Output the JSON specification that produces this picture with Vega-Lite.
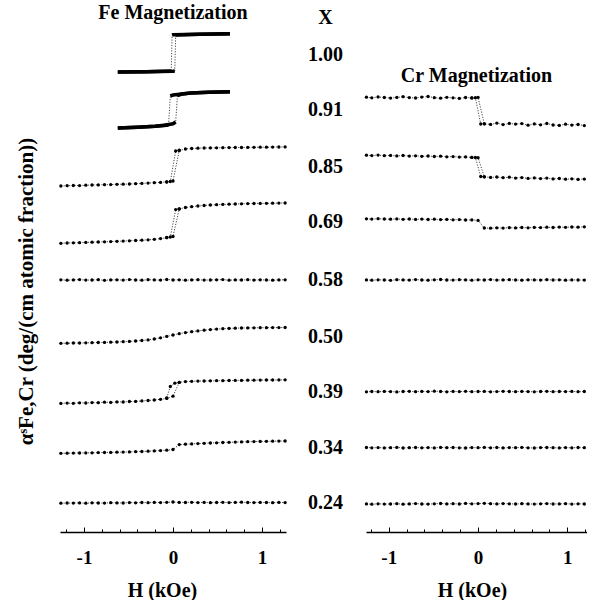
{
"$schema": "https://vega.github.io/schema/vega-lite/v6.json",
"padding": {"left": 15, "top": 2, "right": 0, "bottom": 0},
"background": "white",
"config": {
 "view": {"stroke": null},
 "font": "Liberation Serif",
 "axis": {"labelFont": "Liberation Serif", "labelFontWeight": "bold", "labelFontSize": 19, "labelColor": "black", "titleFont": "Liberation Serif", "titleFontWeight": "bold", "titleFontSize": 20, "titleColor": "black", "domainColor": "black", "tickColor": "black", "grid": false},
 "title": {"font": "Liberation Serif", "fontSize": 20, "fontWeight": "bold", "color": "black"}
},
"datasets": {
 "fe": [
  {"x":"1.00","s":"u","b":"lo","h":-0.62,"v":460},{"x":"1.00","s":"u","b":"lo","h":-0.3,"v":460.3},{"x":"1.00","s":"u","b":"lo","h":0,"v":460.8},{"x":"1.00","s":"u","b":"lo","h":0.02,"v":461},{"x":"1.00","s":"u","b":"hi","h":0.03,"v":497},{"x":"1.00","s":"u","b":"hi","h":0.3,"v":497.8},{"x":"1.00","s":"u","b":"hi","h":0.64,"v":498.3},
  {"x":"1.00","s":"d","b":"hi","h":0.64,"v":498.3},{"x":"1.00","s":"d","b":"hi","h":0.3,"v":497.8},{"x":"1.00","s":"d","b":"hi","h":0,"v":497.3},{"x":"1.00","s":"d","b":"hi","h":-0.01,"v":497},{"x":"1.00","s":"d","b":"lo","h":-0.02,"v":461},{"x":"1.00","s":"d","b":"lo","h":-0.3,"v":460.3},{"x":"1.00","s":"d","b":"lo","h":-0.62,"v":460},
  {"x":"0.91","s":"u","b":"lo","h":-0.62,"v":404},{"x":"0.91","s":"u","b":"lo","h":-0.4,"v":404.8},{"x":"0.91","s":"u","b":"lo","h":-0.2,"v":405.8},{"x":"0.91","s":"u","b":"lo","h":-0.1,"v":406.8},{"x":"0.91","s":"u","b":"lo","h":0,"v":408.2},{"x":"0.91","s":"u","b":"lo","h":0.03,"v":410},{"x":"0.91","s":"u","b":"hi","h":0.05,"v":436.5},{"x":"0.91","s":"u","b":"hi","h":0.1,"v":438},{"x":"0.91","s":"u","b":"hi","h":0.2,"v":439},{"x":"0.91","s":"u","b":"hi","h":0.4,"v":439.8},{"x":"0.91","s":"u","b":"hi","h":0.64,"v":440.3},
  {"x":"0.91","s":"d","b":"hi","h":0.64,"v":440.3},{"x":"0.91","s":"d","b":"hi","h":0.4,"v":439.8},{"x":"0.91","s":"d","b":"hi","h":0.2,"v":439},{"x":"0.91","s":"d","b":"hi","h":0.1,"v":438},{"x":"0.91","s":"d","b":"hi","h":0,"v":437},{"x":"0.91","s":"d","b":"hi","h":-0.03,"v":436},{"x":"0.91","s":"d","b":"lo","h":-0.05,"v":407},{"x":"0.91","s":"d","b":"lo","h":-0.1,"v":406.6},{"x":"0.91","s":"d","b":"lo","h":-0.2,"v":405.8},{"x":"0.91","s":"d","b":"lo","h":-0.4,"v":404.8},{"x":"0.91","s":"d","b":"lo","h":-0.62,"v":404},

  {"x":"0.85","s":"u","h":-1.26,"v":346},{"x":"0.85","s":"u","h":-1.19,"v":346.3},{"x":"0.85","s":"u","h":-1.12,"v":346.5},{"x":"0.85","s":"u","h":-1.05,"v":346.4},{"x":"0.85","s":"u","h":-0.98,"v":346.8},{"x":"0.85","s":"u","h":-0.91,"v":347},{"x":"0.85","s":"u","h":-0.84,"v":347.1},{"x":"0.85","s":"u","h":-0.77,"v":347.3},{"x":"0.85","s":"u","h":-0.7,"v":347.4},{"x":"0.85","s":"u","h":-0.63,"v":347.7},{"x":"0.85","s":"u","h":-0.56,"v":347.8},{"x":"0.85","s":"u","h":-0.49,"v":348},{"x":"0.85","s":"u","h":-0.42,"v":348.3},{"x":"0.85","s":"u","h":-0.35,"v":348.6},{"x":"0.85","s":"u","h":-0.28,"v":348.9},{"x":"0.85","s":"u","h":-0.21,"v":349.3},{"x":"0.85","s":"u","h":-0.14,"v":349.6},{"x":"0.85","s":"u","h":-0.07,"v":350.2},{"x":"0.85","s":"u","h":0,"v":351},
  {"x":"0.85","s":"u","h":0.07,"v":381.5},{"x":"0.85","s":"u","h":0.14,"v":383},{"x":"0.85","s":"u","h":0.21,"v":383.5},{"x":"0.85","s":"u","h":0.28,"v":383.8},{"x":"0.85","s":"u","h":0.35,"v":384},{"x":"0.85","s":"u","h":0.42,"v":384.1},{"x":"0.85","s":"u","h":0.49,"v":384.2},{"x":"0.85","s":"u","h":0.56,"v":384.3},{"x":"0.85","s":"u","h":0.63,"v":384.4},{"x":"0.85","s":"u","h":0.7,"v":384.5},{"x":"0.85","s":"u","h":0.77,"v":384.5},{"x":"0.85","s":"u","h":0.84,"v":384.6},{"x":"0.85","s":"u","h":0.91,"v":384.7},{"x":"0.85","s":"u","h":0.98,"v":384.8},{"x":"0.85","s":"u","h":1.05,"v":384.8},{"x":"0.85","s":"u","h":1.12,"v":384.9},{"x":"0.85","s":"u","h":1.19,"v":385},{"x":"0.85","s":"u","h":1.26,"v":385.1},
  {"x":"0.85","s":"d","h":0.07,"v":381.8},{"x":"0.85","s":"d","h":0.03,"v":381},{"x":"0.85","s":"d","h":-0.03,"v":350.5},{"x":"0.85","s":"d","h":-0.07,"v":350},

  {"x":"0.69","s":"u","h":-1.26,"v":288.7},{"x":"0.69","s":"u","h":-1.19,"v":289},{"x":"0.69","s":"u","h":-1.12,"v":289.2},{"x":"0.69","s":"u","h":-1.05,"v":289.3},{"x":"0.69","s":"u","h":-0.98,"v":289.6},{"x":"0.69","s":"u","h":-0.91,"v":289.8},{"x":"0.69","s":"u","h":-0.84,"v":290},{"x":"0.69","s":"u","h":-0.77,"v":290.2},{"x":"0.69","s":"u","h":-0.7,"v":290.4},{"x":"0.69","s":"u","h":-0.63,"v":290.7},{"x":"0.69","s":"u","h":-0.56,"v":290.9},{"x":"0.69","s":"u","h":-0.49,"v":291.2},{"x":"0.69","s":"u","h":-0.42,"v":291.5},{"x":"0.69","s":"u","h":-0.35,"v":291.8},{"x":"0.69","s":"u","h":-0.28,"v":292.2},{"x":"0.69","s":"u","h":-0.21,"v":292.7},{"x":"0.69","s":"u","h":-0.14,"v":293.4},{"x":"0.69","s":"u","h":-0.07,"v":294.3},{"x":"0.69","s":"u","h":0,"v":295.5},
  {"x":"0.69","s":"u","h":0.07,"v":323},{"x":"0.69","s":"u","h":0.14,"v":324.5},{"x":"0.69","s":"u","h":0.21,"v":325.3},{"x":"0.69","s":"u","h":0.28,"v":326},{"x":"0.69","s":"u","h":0.35,"v":326.5},{"x":"0.69","s":"u","h":0.42,"v":327},{"x":"0.69","s":"u","h":0.49,"v":327.3},{"x":"0.69","s":"u","h":0.56,"v":327.6},{"x":"0.69","s":"u","h":0.63,"v":327.8},{"x":"0.69","s":"u","h":0.7,"v":328},{"x":"0.69","s":"u","h":0.77,"v":328.2},{"x":"0.69","s":"u","h":0.84,"v":328.4},{"x":"0.69","s":"u","h":0.91,"v":328.5},{"x":"0.69","s":"u","h":0.98,"v":328.6},{"x":"0.69","s":"u","h":1.05,"v":328.7},{"x":"0.69","s":"u","h":1.12,"v":328.8},{"x":"0.69","s":"u","h":1.19,"v":328.9},{"x":"0.69","s":"u","h":1.26,"v":329},
  {"x":"0.69","s":"d","h":0.07,"v":323.2},{"x":"0.69","s":"d","h":0.03,"v":322.4},{"x":"0.69","s":"d","h":-0.03,"v":295},{"x":"0.69","s":"d","h":-0.07,"v":294.5},

  {"x":"0.58","s":"u","h":-1.26,"v":252.2},{"x":"0.58","s":"u","h":-1.19,"v":251.8},{"x":"0.58","s":"u","h":-1.12,"v":252.1},{"x":"0.58","s":"u","h":-1.05,"v":252.4},{"x":"0.58","s":"u","h":-0.98,"v":251.9},{"x":"0.58","s":"u","h":-0.91,"v":252},{"x":"0.58","s":"u","h":-0.84,"v":252.3},{"x":"0.58","s":"u","h":-0.77,"v":251.7},{"x":"0.58","s":"u","h":-0.7,"v":252.1},{"x":"0.58","s":"u","h":-0.63,"v":252.2},{"x":"0.58","s":"u","h":-0.56,"v":251.9},{"x":"0.58","s":"u","h":-0.49,"v":252.4},{"x":"0.58","s":"u","h":-0.42,"v":252},{"x":"0.58","s":"u","h":-0.35,"v":251.8},{"x":"0.58","s":"u","h":-0.28,"v":252.3},{"x":"0.58","s":"u","h":-0.21,"v":252.1},{"x":"0.58","s":"u","h":-0.14,"v":251.9},{"x":"0.58","s":"u","h":-0.07,"v":252.5},{"x":"0.58","s":"u","h":0,"v":252},{"x":"0.58","s":"u","h":0.07,"v":252.2},{"x":"0.58","s":"u","h":0.14,"v":251.8},{"x":"0.58","s":"u","h":0.21,"v":252.1},{"x":"0.58","s":"u","h":0.28,"v":252.3},{"x":"0.58","s":"u","h":0.35,"v":251.9},{"x":"0.58","s":"u","h":0.42,"v":252},{"x":"0.58","s":"u","h":0.49,"v":252.2},{"x":"0.58","s":"u","h":0.56,"v":252.4},{"x":"0.58","s":"u","h":0.63,"v":251.8},{"x":"0.58","s":"u","h":0.7,"v":252.1},{"x":"0.58","s":"u","h":0.77,"v":252},{"x":"0.58","s":"u","h":0.84,"v":252.3},{"x":"0.58","s":"u","h":0.91,"v":251.9},{"x":"0.58","s":"u","h":0.98,"v":252.2},{"x":"0.58","s":"u","h":1.05,"v":252},{"x":"0.58","s":"u","h":1.12,"v":251.8},{"x":"0.58","s":"u","h":1.19,"v":252.1},{"x":"0.58","s":"u","h":1.26,"v":252.2},

  {"x":"0.50","s":"u","h":-1.26,"v":188.7},{"x":"0.50","s":"u","h":-1.19,"v":188.8},{"x":"0.50","s":"u","h":-1.12,"v":189},{"x":"0.50","s":"u","h":-1.05,"v":189},{"x":"0.50","s":"u","h":-0.98,"v":189.2},{"x":"0.50","s":"u","h":-0.91,"v":189.3},{"x":"0.50","s":"u","h":-0.84,"v":189.5},{"x":"0.50","s":"u","h":-0.77,"v":189.6},{"x":"0.50","s":"u","h":-0.7,"v":189.8},{"x":"0.50","s":"u","h":-0.63,"v":190},{"x":"0.50","s":"u","h":-0.56,"v":190.3},{"x":"0.50","s":"u","h":-0.49,"v":190.6},{"x":"0.50","s":"u","h":-0.42,"v":191},{"x":"0.50","s":"u","h":-0.35,"v":191.5},{"x":"0.50","s":"u","h":-0.28,"v":192.1},{"x":"0.50","s":"u","h":-0.21,"v":193},{"x":"0.50","s":"u","h":-0.14,"v":194.2},{"x":"0.50","s":"u","h":-0.07,"v":195.6},{"x":"0.50","s":"u","h":0,"v":197},{"x":"0.50","s":"u","h":0.07,"v":198.3},{"x":"0.50","s":"u","h":0.14,"v":199.4},{"x":"0.50","s":"u","h":0.21,"v":200.3},{"x":"0.50","s":"u","h":0.28,"v":201.1},{"x":"0.50","s":"u","h":0.35,"v":201.8},{"x":"0.50","s":"u","h":0.42,"v":202.4},{"x":"0.50","s":"u","h":0.49,"v":202.9},{"x":"0.50","s":"u","h":0.56,"v":203.3},{"x":"0.50","s":"u","h":0.63,"v":203.6},{"x":"0.50","s":"u","h":0.7,"v":203.8},{"x":"0.50","s":"u","h":0.77,"v":204},{"x":"0.50","s":"u","h":0.84,"v":204.1},{"x":"0.50","s":"u","h":0.91,"v":204.2},{"x":"0.50","s":"u","h":0.98,"v":204.3},{"x":"0.50","s":"u","h":1.05,"v":204.3},{"x":"0.50","s":"u","h":1.12,"v":204.4},{"x":"0.50","s":"u","h":1.19,"v":204.4},{"x":"0.50","s":"u","h":1.26,"v":204.5},

  {"x":"0.39","s":"u","h":-1.26,"v":128.6},{"x":"0.39","s":"u","h":-1.19,"v":128.9},{"x":"0.39","s":"u","h":-1.12,"v":128.7},{"x":"0.39","s":"u","h":-1.05,"v":129.2},{"x":"0.39","s":"u","h":-0.98,"v":129},{"x":"0.39","s":"u","h":-0.91,"v":129.4},{"x":"0.39","s":"u","h":-0.84,"v":129.3},{"x":"0.39","s":"u","h":-0.77,"v":129.8},{"x":"0.39","s":"u","h":-0.7,"v":129.6},{"x":"0.39","s":"u","h":-0.63,"v":130.1},{"x":"0.39","s":"u","h":-0.56,"v":130},{"x":"0.39","s":"u","h":-0.49,"v":130.5},{"x":"0.39","s":"u","h":-0.42,"v":130.6},{"x":"0.39","s":"u","h":-0.35,"v":131.1},{"x":"0.39","s":"u","h":-0.28,"v":131.5},{"x":"0.39","s":"u","h":-0.21,"v":132},{"x":"0.39","s":"u","h":-0.14,"v":132.7},{"x":"0.39","s":"u","h":-0.07,"v":133.6},{"x":"0.39","s":"u","h":0,"v":135.8},
  {"x":"0.39","s":"u","h":0.07,"v":149.6},{"x":"0.39","s":"u","h":0.14,"v":150.4},{"x":"0.39","s":"u","h":0.21,"v":150.7},{"x":"0.39","s":"u","h":0.28,"v":150.9},{"x":"0.39","s":"u","h":0.35,"v":151},{"x":"0.39","s":"u","h":0.42,"v":151.2},{"x":"0.39","s":"u","h":0.49,"v":151.3},{"x":"0.39","s":"u","h":0.56,"v":151.3},{"x":"0.39","s":"u","h":0.63,"v":151.5},{"x":"0.39","s":"u","h":0.7,"v":151.6},{"x":"0.39","s":"u","h":0.77,"v":151.6},{"x":"0.39","s":"u","h":0.84,"v":151.8},{"x":"0.39","s":"u","h":0.91,"v":151.8},{"x":"0.39","s":"u","h":0.98,"v":151.9},{"x":"0.39","s":"u","h":1.05,"v":152},{"x":"0.39","s":"u","h":1.12,"v":152},{"x":"0.39","s":"u","h":1.19,"v":152.1},{"x":"0.39","s":"u","h":1.26,"v":152.2},
  {"x":"0.39","s":"d","h":0.07,"v":149.6},{"x":"0.39","s":"d","h":0.02,"v":148.8},{"x":"0.39","s":"d","h":-0.03,"v":145.5},{"x":"0.39","s":"d","h":-0.07,"v":134.2},

  {"x":"0.34","s":"u","h":-1.26,"v":78.7},{"x":"0.34","s":"u","h":-1.19,"v":78.8},{"x":"0.34","s":"u","h":-1.12,"v":78.9},{"x":"0.34","s":"u","h":-1.05,"v":79},{"x":"0.34","s":"u","h":-0.98,"v":79.1},{"x":"0.34","s":"u","h":-0.91,"v":79.2},{"x":"0.34","s":"u","h":-0.84,"v":79.4},{"x":"0.34","s":"u","h":-0.77,"v":79.5},{"x":"0.34","s":"u","h":-0.7,"v":79.6},{"x":"0.34","s":"u","h":-0.63,"v":79.8},{"x":"0.34","s":"u","h":-0.56,"v":79.9},{"x":"0.34","s":"u","h":-0.49,"v":80.1},{"x":"0.34","s":"u","h":-0.42,"v":80.3},{"x":"0.34","s":"u","h":-0.35,"v":80.5},{"x":"0.34","s":"u","h":-0.28,"v":80.8},{"x":"0.34","s":"u","h":-0.21,"v":81.1},{"x":"0.34","s":"u","h":-0.14,"v":81.4},{"x":"0.34","s":"u","h":-0.07,"v":81.8},{"x":"0.34","s":"u","h":0,"v":82.5},
  {"x":"0.34","s":"u","h":0.07,"v":87.4},{"x":"0.34","s":"u","h":0.14,"v":87.8},{"x":"0.34","s":"u","h":0.21,"v":88.1},{"x":"0.34","s":"u","h":0.28,"v":88.4},{"x":"0.34","s":"u","h":0.35,"v":88.7},{"x":"0.34","s":"u","h":0.42,"v":89},{"x":"0.34","s":"u","h":0.49,"v":89.2},{"x":"0.34","s":"u","h":0.56,"v":89.5},{"x":"0.34","s":"u","h":0.63,"v":89.7},{"x":"0.34","s":"u","h":0.7,"v":89.9},{"x":"0.34","s":"u","h":0.77,"v":90.1},{"x":"0.34","s":"u","h":0.84,"v":90.3},{"x":"0.34","s":"u","h":0.91,"v":90.4},{"x":"0.34","s":"u","h":0.98,"v":90.6},{"x":"0.34","s":"u","h":1.05,"v":90.7},{"x":"0.34","s":"u","h":1.12,"v":90.8},{"x":"0.34","s":"u","h":1.19,"v":90.9},{"x":"0.34","s":"u","h":1.26,"v":91},

  {"x":"0.24","s":"u","h":-1.26,"v":28.8},{"x":"0.24","s":"u","h":-1.19,"v":29},{"x":"0.24","s":"u","h":-1.12,"v":28.9},{"x":"0.24","s":"u","h":-1.05,"v":29.1},{"x":"0.24","s":"u","h":-0.98,"v":28.8},{"x":"0.24","s":"u","h":-0.91,"v":29.2},{"x":"0.24","s":"u","h":-0.84,"v":29},{"x":"0.24","s":"u","h":-0.77,"v":28.9},{"x":"0.24","s":"u","h":-0.7,"v":29.3},{"x":"0.24","s":"u","h":-0.63,"v":29.1},{"x":"0.24","s":"u","h":-0.56,"v":29},{"x":"0.24","s":"u","h":-0.49,"v":29.4},{"x":"0.24","s":"u","h":-0.42,"v":29.2},{"x":"0.24","s":"u","h":-0.35,"v":29.5},{"x":"0.24","s":"u","h":-0.28,"v":29.3},{"x":"0.24","s":"u","h":-0.21,"v":29.6},{"x":"0.24","s":"u","h":-0.14,"v":29.4},{"x":"0.24","s":"u","h":-0.07,"v":29.7},{"x":"0.24","s":"u","h":0,"v":30},{"x":"0.24","s":"u","h":0.07,"v":29.6},{"x":"0.24","s":"u","h":0.14,"v":29.5},{"x":"0.24","s":"u","h":0.21,"v":29.7},{"x":"0.24","s":"u","h":0.28,"v":29.4},{"x":"0.24","s":"u","h":0.35,"v":29.6},{"x":"0.24","s":"u","h":0.42,"v":29.3},{"x":"0.24","s":"u","h":0.49,"v":29.5},{"x":"0.24","s":"u","h":0.56,"v":29.7},{"x":"0.24","s":"u","h":0.63,"v":29.4},{"x":"0.24","s":"u","h":0.7,"v":29.6},{"x":"0.24","s":"u","h":0.77,"v":29.8},{"x":"0.24","s":"u","h":0.84,"v":29.5},{"x":"0.24","s":"u","h":0.91,"v":29.4},{"x":"0.24","s":"u","h":0.98,"v":29.6},{"x":"0.24","s":"u","h":1.05,"v":29.5},{"x":"0.24","s":"u","h":1.12,"v":29.3},{"x":"0.24","s":"u","h":1.19,"v":29.6},{"x":"0.24","s":"u","h":1.26,"v":29.4}
 ],
 "cr": [
  {"x":"0.91","s":"u","h":-1.25,"v":434.8},{"x":"0.91","s":"u","h":-1.19,"v":434.2},{"x":"0.91","s":"u","h":-1.12,"v":435.1},{"x":"0.91","s":"u","h":-1.05,"v":434.5},{"x":"0.91","s":"u","h":-0.98,"v":433.9},{"x":"0.91","s":"u","h":-0.91,"v":434.6},{"x":"0.91","s":"u","h":-0.84,"v":435.3},{"x":"0.91","s":"u","h":-0.77,"v":434.4},{"x":"0.91","s":"u","h":-0.7,"v":434},{"x":"0.91","s":"u","h":-0.63,"v":434.9},{"x":"0.91","s":"u","h":-0.56,"v":435.5},{"x":"0.91","s":"u","h":-0.49,"v":434.3},{"x":"0.91","s":"u","h":-0.42,"v":433.8},{"x":"0.91","s":"u","h":-0.35,"v":434.7},{"x":"0.91","s":"u","h":-0.28,"v":434.2},{"x":"0.91","s":"u","h":-0.21,"v":433.6},{"x":"0.91","s":"u","h":-0.14,"v":434.5},{"x":"0.91","s":"u","h":-0.07,"v":434.1},{"x":"0.91","s":"u","h":0,"v":434.6},
  {"x":"0.91","s":"u","h":0.07,"v":408.2},{"x":"0.91","s":"u","h":0.14,"v":407.6},{"x":"0.91","s":"u","h":0.21,"v":408.9},{"x":"0.91","s":"u","h":0.28,"v":407.4},{"x":"0.91","s":"u","h":0.35,"v":408.6},{"x":"0.91","s":"u","h":0.42,"v":407.9},{"x":"0.91","s":"u","h":0.49,"v":408.4},{"x":"0.91","s":"u","h":0.56,"v":406.8},{"x":"0.91","s":"u","h":0.63,"v":408.1},{"x":"0.91","s":"u","h":0.7,"v":407.2},{"x":"0.91","s":"u","h":0.77,"v":408.5},{"x":"0.91","s":"u","h":0.84,"v":407},{"x":"0.91","s":"u","h":0.91,"v":406.6},{"x":"0.91","s":"u","h":0.98,"v":407.8},{"x":"0.91","s":"u","h":1.05,"v":406.9},{"x":"0.91","s":"u","h":1.12,"v":407.5},{"x":"0.91","s":"u","h":1.19,"v":406.4},
  {"x":"0.91","s":"d","h":-0.07,"v":434.1},{"x":"0.91","s":"d","h":-0.03,"v":434.3},{"x":"0.91","s":"d","h":0.03,"v":408},{"x":"0.91","s":"d","h":0.07,"v":408.2},

  {"x":"0.85","s":"u","h":-1.25,"v":376.8},{"x":"0.85","s":"u","h":-1.19,"v":376.4},{"x":"0.85","s":"u","h":-1.12,"v":376.9},{"x":"0.85","s":"u","h":-1.05,"v":376.3},{"x":"0.85","s":"u","h":-0.98,"v":376.6},{"x":"0.85","s":"u","h":-0.91,"v":376.1},{"x":"0.85","s":"u","h":-0.84,"v":376.5},{"x":"0.85","s":"u","h":-0.77,"v":375.9},{"x":"0.85","s":"u","h":-0.7,"v":376.2},{"x":"0.85","s":"u","h":-0.63,"v":375.7},{"x":"0.85","s":"u","h":-0.56,"v":376},{"x":"0.85","s":"u","h":-0.49,"v":375.5},{"x":"0.85","s":"u","h":-0.42,"v":375.8},{"x":"0.85","s":"u","h":-0.35,"v":375.2},{"x":"0.85","s":"u","h":-0.28,"v":375.4},{"x":"0.85","s":"u","h":-0.21,"v":374.9},{"x":"0.85","s":"u","h":-0.14,"v":375.1},{"x":"0.85","s":"u","h":-0.07,"v":374.6},{"x":"0.85","s":"u","h":0,"v":374.3},
  {"x":"0.85","s":"u","h":0.07,"v":355.2},{"x":"0.85","s":"u","h":0.14,"v":354.6},{"x":"0.85","s":"u","h":0.21,"v":355},{"x":"0.85","s":"u","h":0.28,"v":354.3},{"x":"0.85","s":"u","h":0.35,"v":354.8},{"x":"0.85","s":"u","h":0.42,"v":353.9},{"x":"0.85","s":"u","h":0.49,"v":354.4},{"x":"0.85","s":"u","h":0.56,"v":353.6},{"x":"0.85","s":"u","h":0.63,"v":354.1},{"x":"0.85","s":"u","h":0.7,"v":353.4},{"x":"0.85","s":"u","h":0.77,"v":353.9},{"x":"0.85","s":"u","h":0.84,"v":353.1},{"x":"0.85","s":"u","h":0.91,"v":353.5},{"x":"0.85","s":"u","h":0.98,"v":352.8},{"x":"0.85","s":"u","h":1.05,"v":353.2},{"x":"0.85","s":"u","h":1.12,"v":352.6},{"x":"0.85","s":"u","h":1.19,"v":352.9},
  {"x":"0.85","s":"d","h":-0.07,"v":374.6},{"x":"0.85","s":"d","h":-0.03,"v":374.5},{"x":"0.85","s":"d","h":0.03,"v":355.5},{"x":"0.85","s":"d","h":0.07,"v":355.2},

  {"x":"0.69","s":"u","h":-1.25,"v":313.2},{"x":"0.69","s":"u","h":-1.19,"v":312.9},{"x":"0.69","s":"u","h":-1.12,"v":313.3},{"x":"0.69","s":"u","h":-1.05,"v":313},{"x":"0.69","s":"u","h":-0.98,"v":312.8},{"x":"0.69","s":"u","h":-0.91,"v":313.1},{"x":"0.69","s":"u","h":-0.84,"v":312.7},{"x":"0.69","s":"u","h":-0.77,"v":313},{"x":"0.69","s":"u","h":-0.7,"v":312.6},{"x":"0.69","s":"u","h":-0.63,"v":312.9},{"x":"0.69","s":"u","h":-0.56,"v":312.5},{"x":"0.69","s":"u","h":-0.49,"v":312.8},{"x":"0.69","s":"u","h":-0.42,"v":312.4},{"x":"0.69","s":"u","h":-0.35,"v":312.6},{"x":"0.69","s":"u","h":-0.28,"v":312.2},{"x":"0.69","s":"u","h":-0.21,"v":312.4},{"x":"0.69","s":"u","h":-0.14,"v":312},{"x":"0.69","s":"u","h":-0.07,"v":312.1},{"x":"0.69","s":"u","h":0,"v":311.6},
  {"x":"0.69","s":"u","h":0.07,"v":304},{"x":"0.69","s":"u","h":0.14,"v":303.8},{"x":"0.69","s":"u","h":0.21,"v":304.2},{"x":"0.69","s":"u","h":0.28,"v":303.9},{"x":"0.69","s":"u","h":0.35,"v":304.3},{"x":"0.69","s":"u","h":0.42,"v":304.1},{"x":"0.69","s":"u","h":0.49,"v":304.5},{"x":"0.69","s":"u","h":0.56,"v":304.2},{"x":"0.69","s":"u","h":0.63,"v":304.6},{"x":"0.69","s":"u","h":0.7,"v":304.4},{"x":"0.69","s":"u","h":0.77,"v":304.8},{"x":"0.69","s":"u","h":0.84,"v":304.5},{"x":"0.69","s":"u","h":0.91,"v":304.9},{"x":"0.69","s":"u","h":0.98,"v":304.7},{"x":"0.69","s":"u","h":1.05,"v":305},{"x":"0.69","s":"u","h":1.12,"v":304.8},{"x":"0.69","s":"u","h":1.19,"v":305.2},

  {"x":"0.58","s":"u","h":-1.25,"v":252.1},{"x":"0.58","s":"u","h":-1.19,"v":251.8},{"x":"0.58","s":"u","h":-1.12,"v":252.2},{"x":"0.58","s":"u","h":-1.05,"v":252},{"x":"0.58","s":"u","h":-0.98,"v":251.7},{"x":"0.58","s":"u","h":-0.91,"v":252.3},{"x":"0.58","s":"u","h":-0.84,"v":252.1},{"x":"0.58","s":"u","h":-0.77,"v":251.9},{"x":"0.58","s":"u","h":-0.7,"v":252.4},{"x":"0.58","s":"u","h":-0.63,"v":252},{"x":"0.58","s":"u","h":-0.56,"v":251.8},{"x":"0.58","s":"u","h":-0.49,"v":252.2},{"x":"0.58","s":"u","h":-0.42,"v":252.5},{"x":"0.58","s":"u","h":-0.35,"v":252},{"x":"0.58","s":"u","h":-0.28,"v":251.9},{"x":"0.58","s":"u","h":-0.21,"v":252.3},{"x":"0.58","s":"u","h":-0.14,"v":252.1},{"x":"0.58","s":"u","h":-0.07,"v":251.8},{"x":"0.58","s":"u","h":0,"v":252.2},{"x":"0.58","s":"u","h":0.07,"v":252},{"x":"0.58","s":"u","h":0.14,"v":252.4},{"x":"0.58","s":"u","h":0.21,"v":251.9},{"x":"0.58","s":"u","h":0.28,"v":252.1},{"x":"0.58","s":"u","h":0.35,"v":252.3},{"x":"0.58","s":"u","h":0.42,"v":252},{"x":"0.58","s":"u","h":0.49,"v":251.8},{"x":"0.58","s":"u","h":0.56,"v":252.2},{"x":"0.58","s":"u","h":0.63,"v":252.1},{"x":"0.58","s":"u","h":0.7,"v":251.9},{"x":"0.58","s":"u","h":0.77,"v":252.3},{"x":"0.58","s":"u","h":0.84,"v":252},{"x":"0.58","s":"u","h":0.91,"v":252.2},{"x":"0.58","s":"u","h":0.98,"v":251.8},{"x":"0.58","s":"u","h":1.05,"v":252.1},{"x":"0.58","s":"u","h":1.12,"v":252},{"x":"0.58","s":"u","h":1.19,"v":251.9},

  {"x":"0.39","s":"u","h":-1.25,"v":140.2},{"x":"0.39","s":"u","h":-1.19,"v":140.5},{"x":"0.39","s":"u","h":-1.12,"v":140.3},{"x":"0.39","s":"u","h":-1.05,"v":140.6},{"x":"0.39","s":"u","h":-0.98,"v":140.4},{"x":"0.39","s":"u","h":-0.91,"v":140.1},{"x":"0.39","s":"u","h":-0.84,"v":140.5},{"x":"0.39","s":"u","h":-0.77,"v":140.7},{"x":"0.39","s":"u","h":-0.7,"v":140.3},{"x":"0.39","s":"u","h":-0.63,"v":140.6},{"x":"0.39","s":"u","h":-0.56,"v":140.4},{"x":"0.39","s":"u","h":-0.49,"v":140.8},{"x":"0.39","s":"u","h":-0.42,"v":140.5},{"x":"0.39","s":"u","h":-0.35,"v":140.2},{"x":"0.39","s":"u","h":-0.28,"v":140.6},{"x":"0.39","s":"u","h":-0.21,"v":140.4},{"x":"0.39","s":"u","h":-0.14,"v":140.7},{"x":"0.39","s":"u","h":-0.07,"v":140.3},{"x":"0.39","s":"u","h":0,"v":140.5},{"x":"0.39","s":"u","h":0.07,"v":140.6},{"x":"0.39","s":"u","h":0.14,"v":140.2},{"x":"0.39","s":"u","h":0.21,"v":140.4},{"x":"0.39","s":"u","h":0.28,"v":140.7},{"x":"0.39","s":"u","h":0.35,"v":140.5},{"x":"0.39","s":"u","h":0.42,"v":140.3},{"x":"0.39","s":"u","h":0.49,"v":140.6},{"x":"0.39","s":"u","h":0.56,"v":140.4},{"x":"0.39","s":"u","h":0.63,"v":140.2},{"x":"0.39","s":"u","h":0.7,"v":140.5},{"x":"0.39","s":"u","h":0.77,"v":140.7},{"x":"0.39","s":"u","h":0.84,"v":140.3},{"x":"0.39","s":"u","h":0.91,"v":140.5},{"x":"0.39","s":"u","h":0.98,"v":140.4},{"x":"0.39","s":"u","h":1.05,"v":140.6},{"x":"0.39","s":"u","h":1.12,"v":140.3},{"x":"0.39","s":"u","h":1.19,"v":140.5},

  {"x":"0.34","s":"u","h":-1.25,"v":84.5},{"x":"0.34","s":"u","h":-1.19,"v":84.2},{"x":"0.34","s":"u","h":-1.12,"v":84.4},{"x":"0.34","s":"u","h":-1.05,"v":84.1},{"x":"0.34","s":"u","h":-0.98,"v":84.3},{"x":"0.34","s":"u","h":-0.91,"v":84.6},{"x":"0.34","s":"u","h":-0.84,"v":84},{"x":"0.34","s":"u","h":-0.77,"v":84.3},{"x":"0.34","s":"u","h":-0.7,"v":84.5},{"x":"0.34","s":"u","h":-0.63,"v":84.2},{"x":"0.34","s":"u","h":-0.56,"v":84.4},{"x":"0.34","s":"u","h":-0.49,"v":84.1},{"x":"0.34","s":"u","h":-0.42,"v":84.6},{"x":"0.34","s":"u","h":-0.35,"v":84.3},{"x":"0.34","s":"u","h":-0.28,"v":84.5},{"x":"0.34","s":"u","h":-0.21,"v":84.2},{"x":"0.34","s":"u","h":-0.14,"v":84},{"x":"0.34","s":"u","h":-0.07,"v":84.4},{"x":"0.34","s":"u","h":0,"v":84.3},{"x":"0.34","s":"u","h":0.07,"v":84.6},{"x":"0.34","s":"u","h":0.14,"v":84.2},{"x":"0.34","s":"u","h":0.21,"v":84.5},{"x":"0.34","s":"u","h":0.28,"v":84.1},{"x":"0.34","s":"u","h":0.35,"v":84.4},{"x":"0.34","s":"u","h":0.42,"v":84.3},{"x":"0.34","s":"u","h":0.49,"v":84.6},{"x":"0.34","s":"u","h":0.56,"v":84.2},{"x":"0.34","s":"u","h":0.63,"v":84},{"x":"0.34","s":"u","h":0.7,"v":84.4},{"x":"0.34","s":"u","h":0.77,"v":84.5},{"x":"0.34","s":"u","h":0.84,"v":84.3},{"x":"0.34","s":"u","h":0.91,"v":84.1},{"x":"0.34","s":"u","h":0.98,"v":84.4},{"x":"0.34","s":"u","h":1.05,"v":84.2},{"x":"0.34","s":"u","h":1.12,"v":84.5},{"x":"0.34","s":"u","h":1.19,"v":84.3},

  {"x":"0.24","s":"u","h":-1.25,"v":28.1},{"x":"0.24","s":"u","h":-1.19,"v":27.8},{"x":"0.24","s":"u","h":-1.12,"v":28.2},{"x":"0.24","s":"u","h":-1.05,"v":27.9},{"x":"0.24","s":"u","h":-0.98,"v":28},{"x":"0.24","s":"u","h":-0.91,"v":28.3},{"x":"0.24","s":"u","h":-0.84,"v":27.8},{"x":"0.24","s":"u","h":-0.77,"v":28.1},{"x":"0.24","s":"u","h":-0.7,"v":28.4},{"x":"0.24","s":"u","h":-0.63,"v":28},{"x":"0.24","s":"u","h":-0.56,"v":27.9},{"x":"0.24","s":"u","h":-0.49,"v":28.2},{"x":"0.24","s":"u","h":-0.42,"v":28.5},{"x":"0.24","s":"u","h":-0.35,"v":28.1},{"x":"0.24","s":"u","h":-0.28,"v":28.3},{"x":"0.24","s":"u","h":-0.21,"v":28},{"x":"0.24","s":"u","h":-0.14,"v":28.6},{"x":"0.24","s":"u","h":-0.07,"v":28.2},{"x":"0.24","s":"u","h":0,"v":28.4},{"x":"0.24","s":"u","h":0.07,"v":28.7},{"x":"0.24","s":"u","h":0.14,"v":28.3},{"x":"0.24","s":"u","h":0.21,"v":28.1},{"x":"0.24","s":"u","h":0.28,"v":28.4},{"x":"0.24","s":"u","h":0.35,"v":28.2},{"x":"0.24","s":"u","h":0.42,"v":28},{"x":"0.24","s":"u","h":0.49,"v":28.3},{"x":"0.24","s":"u","h":0.56,"v":28.1},{"x":"0.24","s":"u","h":0.63,"v":27.9},{"x":"0.24","s":"u","h":0.7,"v":28.2},{"x":"0.24","s":"u","h":0.77,"v":28.4},{"x":"0.24","s":"u","h":0.84,"v":28},{"x":"0.24","s":"u","h":0.91,"v":28.1},{"x":"0.24","s":"u","h":0.98,"v":28.3},{"x":"0.24","s":"u","h":1.05,"v":27.9},{"x":"0.24","s":"u","h":1.12,"v":28.2},{"x":"0.24","s":"u","h":1.19,"v":28}
 ],
 "labels": [
  {"x":"1.00","v":477},{"x":"0.91","v":422},{"x":"0.85","v":365},{"x":"0.69","v":310},{"x":"0.58","v":252},{"x":"0.50","v":195},{"x":"0.39","v":140},{"x":"0.34","v":84},{"x":"0.24","v":29}
 ]
},
"spacing": 0,
"resolve": {"scale": {"x": "independent", "y": "independent"}},
"hconcat": [
 {
  "width": 226, "height": 502,
  "title": {"text": "Fe Magnetization", "offset": 4},
  "data": {"name": "fe"},
  "encoding": {
   "x": {"field": "h", "type": "quantitative", "scale": {"domain": [-1.27, 1.27], "nice": false, "zero": false},
    "axis": {"title": "H (kOe)", "values": [-1.2,-1,-0.8,-0.6,-0.4,-0.2,0,0.2,0.4,0.6,0.8,1,1.2],
     "labelExpr": "abs(datum.value % 1) < 0.001 ? '' + datum.value : ''",
     "tickSize": {"condition": {"test": "abs(datum.value % 1) < 0.001", "value": -5}, "value": -3},
     "labelPadding": 21, "labelFlush": false, "domainWidth": 1.3, "titlePadding": 13, "titleX": 102}},
   "y": {"field": "v", "type": "quantitative", "scale": {"domain": [0, 502], "nice": false, "zero": false},
    "axis": {"title": "αˢFe,Cr (deg/(cm atomic fraction))", "labels": false, "ticks": false, "domain": false, "titlePadding": 24, "titleFontSize": 21, "titleY": 261}}
  },
  "layer": [
   {"mark": {"type": "line", "strokeDash": [1.2, 1.5], "strokeWidth": 0.9, "color": "#333"},
    "encoding": {"detail": [{"field": "x"}, {"field": "s"}]}},
   {"transform": [{"filter": {"field": "x", "oneOf": ["1.00", "0.91"]}}],
    "mark": {"type": "line", "strokeWidth": 3.5, "color": "black"},
    "encoding": {"detail": [{"field": "x"}, {"field": "s"}, {"field": "b"}]}},
   {"transform": [{"filter": "datum.x != '1.00' && datum.x != '0.91'"}],
    "mark": {"type": "point", "filled": true, "size": 11, "color": "black", "opacity": 1}}
  ]
 },
 {
  "width": 77, "height": 502,
  "title": {"text": "X", "offset": 2},
  "data": {"name": "labels"},
  "mark": {"type": "text", "font": "Liberation Serif", "fontWeight": "bold", "fontSize": 20, "align": "center", "baseline": "middle", "color": "black"},
  "encoding": {
   "x": {"datum": "c", "type": "nominal", "scale": {"type": "point"}, "axis": null},
   "y": {"field": "v", "type": "quantitative", "scale": {"domain": [0, 502], "nice": false, "zero": false}, "axis": null},
   "text": {"field": "x"}
  }
 },
 {
  "width": 221, "height": 502,
  "title": {"text": "Cr Magnetization", "offset": -56},
  "data": {"name": "cr"},
  "encoding": {
   "x": {"field": "h", "type": "quantitative", "scale": {"domain": [-1.255, 1.22], "nice": false, "zero": false},
    "axis": {"title": "H (kOe)", "values": [-1.2,-1,-0.8,-0.6,-0.4,-0.2,0,0.2,0.4,0.6,0.8,1,1.2],
     "labelExpr": "abs(datum.value % 1) < 0.001 ? '' + datum.value : ''",
     "tickSize": {"condition": {"test": "abs(datum.value % 1) < 0.001", "value": -5}, "value": -3},
     "labelPadding": 21, "labelFlush": false, "domainWidth": 1.3, "titlePadding": 13, "titleX": 106}},
   "y": {"field": "v", "type": "quantitative", "scale": {"domain": [0, 502], "nice": false, "zero": false}, "axis": null}
  },
  "layer": [
   {"mark": {"type": "line", "strokeDash": [1.2, 1.5], "strokeWidth": 0.9, "color": "#333"},
    "encoding": {"detail": [{"field": "x"}, {"field": "s"}]}},
   {"mark": {"type": "point", "filled": true, "size": 11, "color": "black", "opacity": 1}}
  ]
 }
]
}
